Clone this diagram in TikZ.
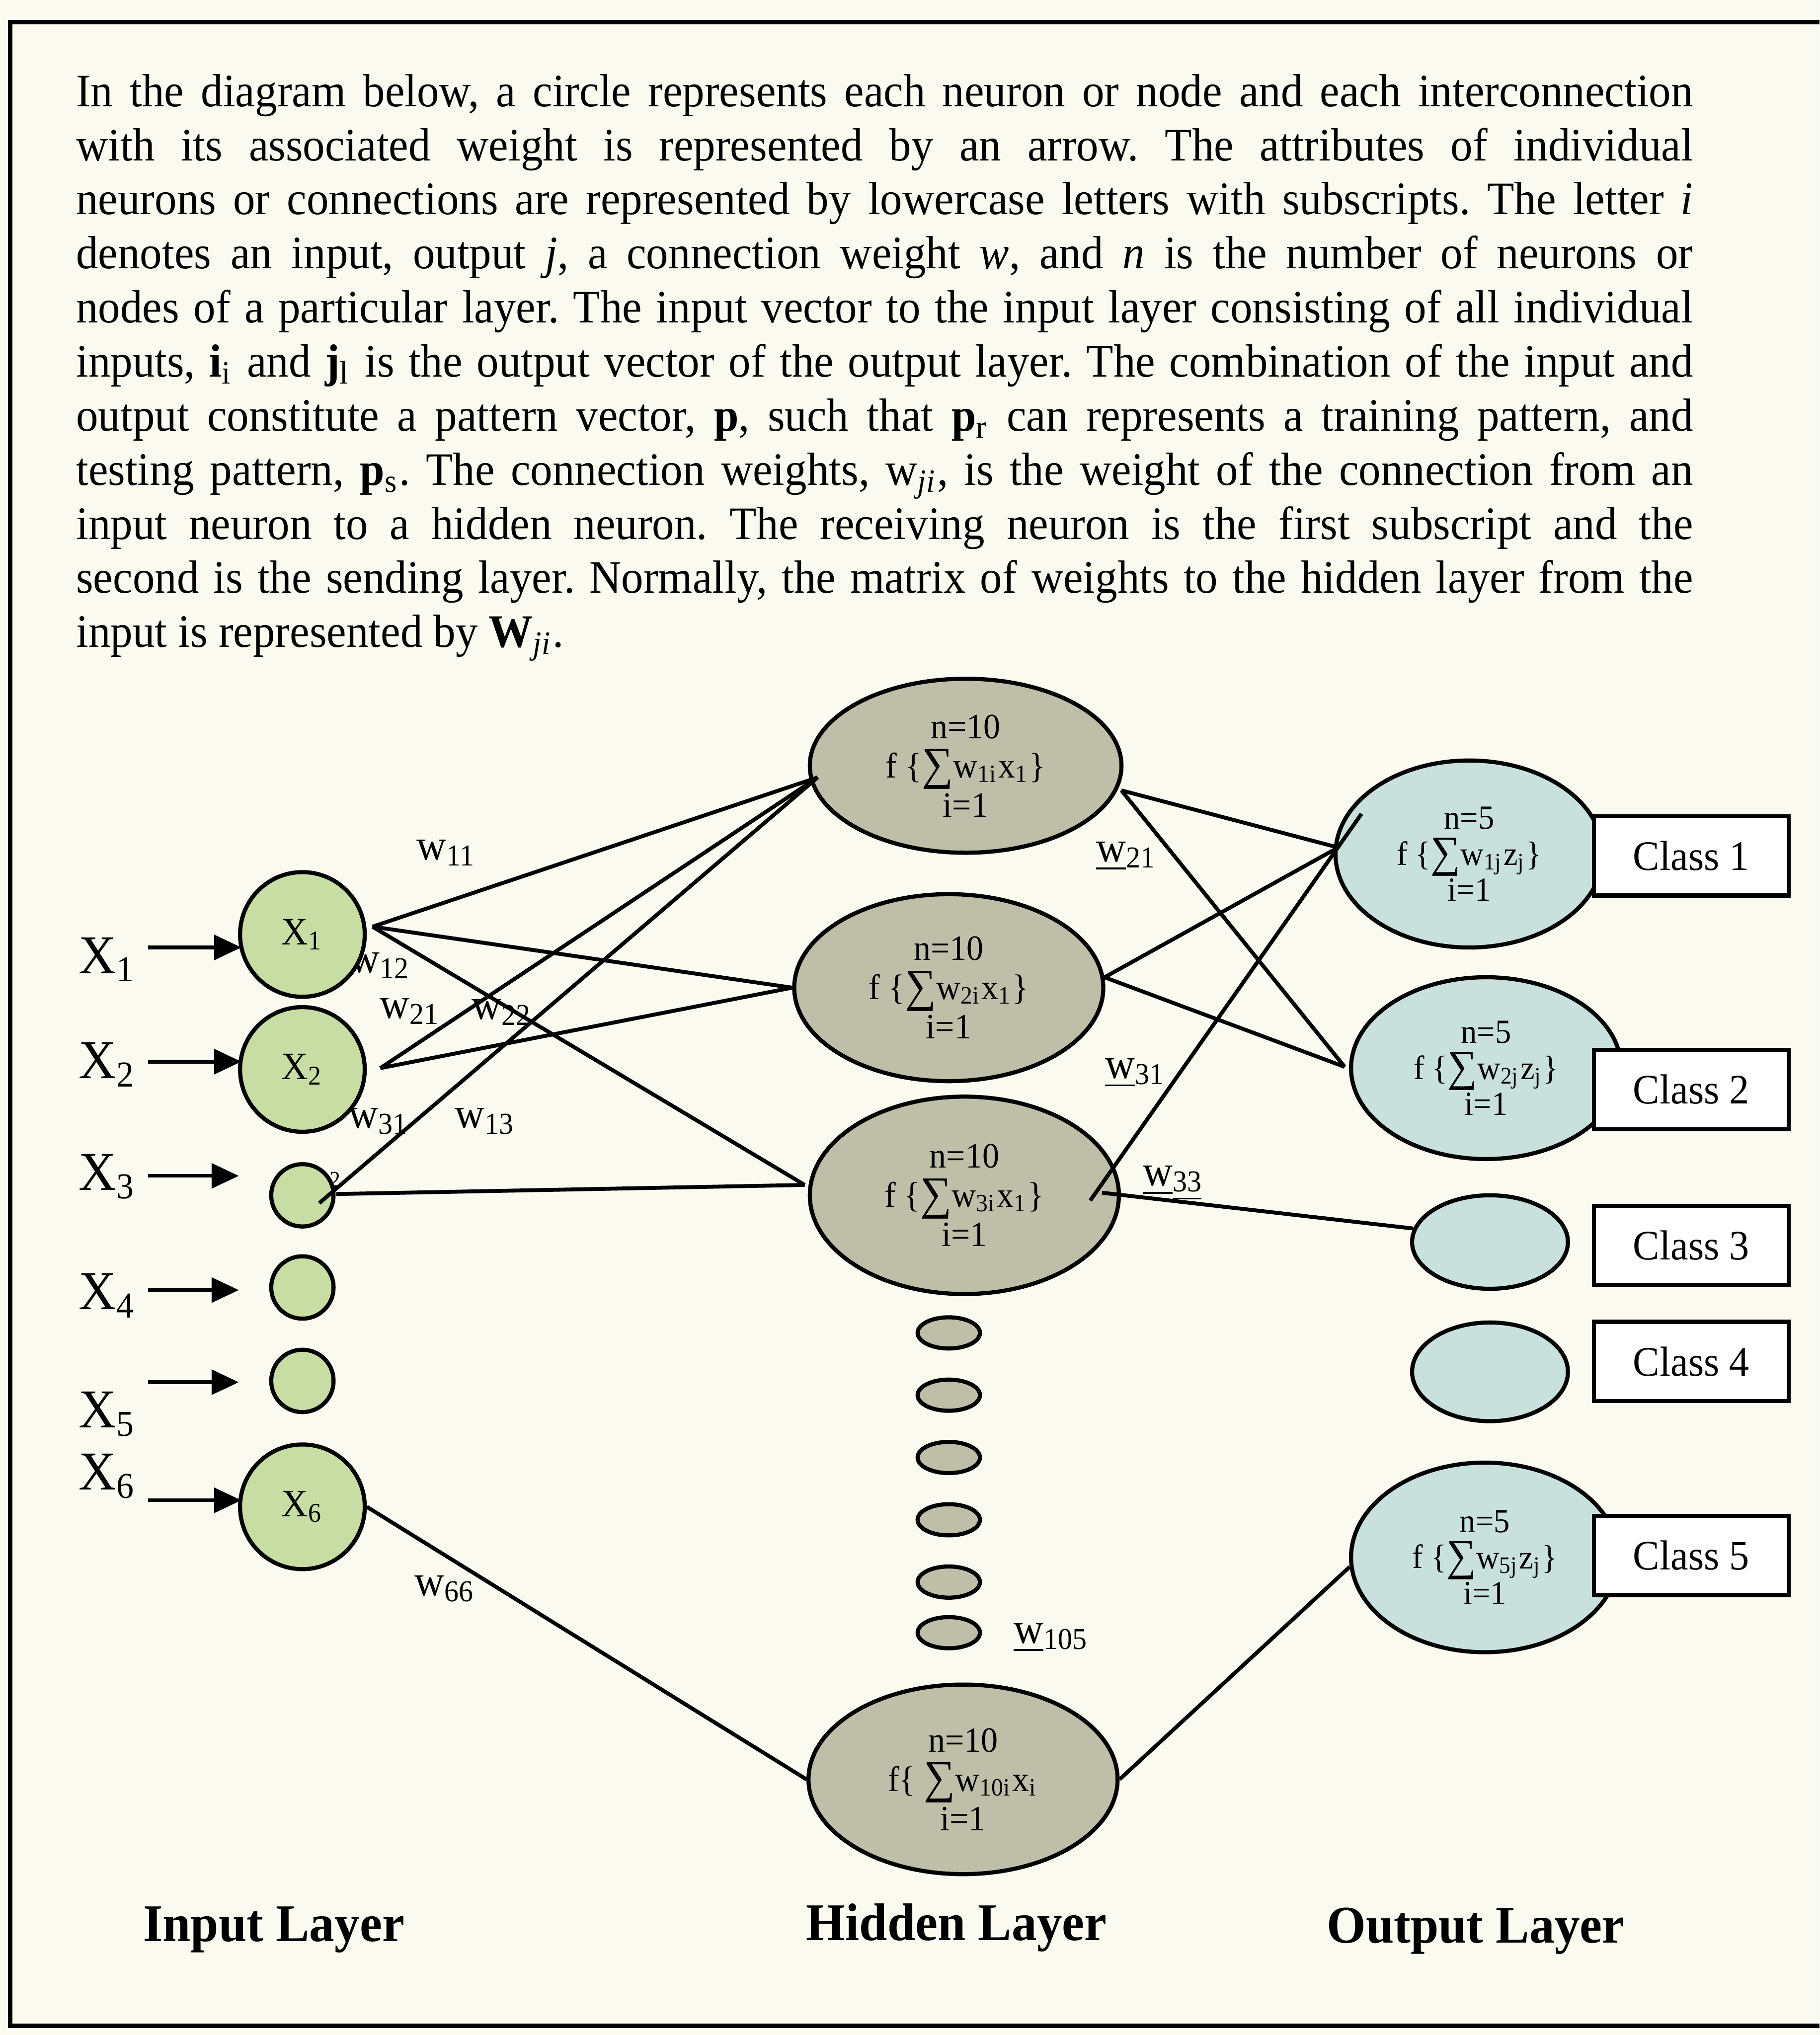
\documentclass[tikz,border=0pt]{standalone}
\usepackage{fontspec}
\setmainfont{Liberation Serif}[FakeStretch=0.95]
\usetikzlibrary{arrows.meta,shapes.geometric}
\definecolor{nnbg}{HTML}{FBFAF0}
\definecolor{nnin}{HTML}{C8DDA4}
\definecolor{nnhid}{HTML}{BFBEA8}
\definecolor{nnout}{HTML}{C8E1DC}
\newcommand\sig{\raisebox{-0.1ex}{\scalebox{1.3}{∑}}}
\frenchspacing
\tikzset{
  inn/.style  = {circle, draw=black, line width=0.9pt, fill=nnin, inner sep=0pt,
                 font=\fontsize{8.5}{9}\selectfont},
  hid/.style  = {ellipse, draw=black, line width=0.9pt, fill=nnhid, inner sep=0pt,
                 align=center, font=\fontsize{7.8}{8.6}\selectfont},
  outn/.style = {ellipse, draw=black, line width=0.9pt, fill=nnout, inner sep=0pt,
                 align=center, font=\fontsize{7.4}{7.9}\selectfont},
  cls/.style  = {rectangle, draw=black, line width=0.9pt, fill=white,
                 minimum width=1.5cm, minimum height=0.61cm,
                 font=\fontsize{9.2}{10}\selectfont},
  ed/.style   = {draw=black, line width=0.85pt},
  arr/.style  = {-{Triangle[length=2.1mm,width=1.9mm]}, draw=black, line width=0.8pt},
  wl/.style   = {font=\fontsize{9.5}{10}\selectfont, inner sep=0pt},
  xl/.style   = {font=\fontsize{12}{13}\selectfont, inner sep=0pt, anchor=base west},
  lay/.style  = {font=\fontsize{11.6}{13}\selectfont\bfseries, inner sep=0pt, anchor=base},
}

\begin{document}
\begin{tikzpicture}[x=0.01cm,y=-0.01cm]
  \useasboundingbox (0,0) rectangle (1402,1568);
  \fill[nnbg] (0,0) rectangle (1402,1568);
  \draw[line width=1pt] (1402,17) -- (8,17) -- (8,1561) -- (1402,1561);
  \node[anchor=base west, inner sep=0pt] (para) at (58,82) {\parbox[t]{12.45cm}{%
    \fontsize{10.2}{11.85}\selectfont
    \makebox[\linewidth][s]{In the diagram below, a circle represents each neuron or node and each interconnection}\\
    \makebox[\linewidth][s]{with its associated weight is represented by an arrow. The attributes of individual}\\
    \makebox[\linewidth][s]{neurons or connections are represented by lowercase letters with subscripts. The letter \textit{i}}\\
    \makebox[\linewidth][s]{denotes an input, output \textit{j}, a connection weight \textit{w}, and \textit{n} is the number of neurons or}\\
    \makebox[\linewidth][s]{nodes of a particular layer. The input vector to the input layer consisting of all individual}\\
    \makebox[\linewidth][s]{inputs, \textbf{i}\textsubscript{i} and \textbf{j}\textsubscript{l} is the output vector of the output layer. The combination of the input and}\\
    \makebox[\linewidth][s]{output constitute a pattern vector, \textbf{p}, such that \textbf{p}\textsubscript{r} can represents a training pattern, and}\\
    \makebox[\linewidth][s]{testing pattern, \textbf{p}\textsubscript{s}. The connection weights, w\textsubscript{\textit{ji}}, is the weight of the connection from an}\\
    \makebox[\linewidth][s]{input neuron to a hidden neuron. The receiving neuron is the first subscript and the}\\
    \makebox[\linewidth][s]{second is the sending layer. Normally, the matrix of weights to the hidden layer from the}\\
    input is represented by \textbf{W}\textsubscript{\textit{ji}}.}};

  % weights, drawn first so the circles cover them
  \node[wl] (w11) at (344,657) {w\textsubscript{11}};
  \node[wl] (w12) at (293,744) {w\textsubscript{12}};
  \node[wl] (w21) at (316,779) {w\textsubscript{21}};
  \node[wl] (w22) at (387,780) {w\textsubscript{22}};
  \node[wl] (w31) at (292,864) {w\textsubscript{31}};
  \node[wl] (w13) at (374,864) {w\textsubscript{13}};
  \node[wl] (w66) at (343,1224) {w\textsubscript{66}};
  \node[wl] (u21) at (868,660) {\underline{w}\textsubscript{21}};
  \node[wl] (u31) at (875,827) {\underline{w}\textsubscript{31}};
  \node[wl] (u33) at (904,912) {\underline{w}\textsubscript{\underline{33}}};
  \node[wl] (u105) at (810,1262) {\underline{w}\textsubscript{105}};

  % input layer
  \foreach \n/\y/\r/\t in {1/720/0.96/X\textsubscript{1}, 2/824/0.96/X\textsubscript{2},
      3/921/0.48/, 4/992/0.48/, 5/1064/0.48/, 6/1161/0.96/X\textsubscript{6}}{
    \node[inn, minimum size=\r cm] (x\n) at (233,\y) {\t};
  }
  \node[font=\fontsize{5}{5}\selectfont, inner sep=0pt] (tiny) at (258,909) {2};

  % hidden layer
  \node[hid, minimum width=2.40cm, minimum height=1.34cm] (h1) at (744,590)
    {n=10\\f \{\sig w\textsubscript{1i}x\textsubscript{1}\}\\i=1};
  \node[hid, minimum width=2.38cm, minimum height=1.44cm] (h2) at (731,761)
    {n=10\\f \{\sig w\textsubscript{2i}x\textsubscript{1}\}\\i=1};
  \node[hid, minimum width=2.38cm, minimum height=1.52cm] (h3) at (743,921)
    {n=10\\f \{\sig w\textsubscript{3i}x\textsubscript{1}\}\\i=1};
  \foreach \k/\y in {1/1027, 2/1075, 3/1123, 4/1171, 5/1219, 6/1258}{
    \node[hid, minimum width=0.48cm, minimum height=0.24cm] (s\k) at (731,\y) {};
  }
  \node[hid, minimum width=2.38cm, minimum height=1.46cm] (h10) at (742,1371)
    {n=10\\f\{ \sig w\textsubscript{10i}x\textsubscript{i}\\i=1};

  % output layer
  \node[outn, minimum width=2.06cm, minimum height=1.44cm] (o1) at (1132,658)
    {n=5\\f \{\sig w\textsubscript{1j}z\textsubscript{j}\}\\i=1};
  \node[outn, minimum width=2.08cm, minimum height=1.40cm] (o2) at (1145,823)
    {n=5\\f \{\sig w\textsubscript{2j}z\textsubscript{j}\}\\i=1};
  \node[outn, minimum width=1.20cm, minimum height=0.72cm] (o3) at (1148,957) {};
  \node[outn, minimum width=1.20cm, minimum height=0.76cm] (o4) at (1148,1057) {};
  \node[outn, minimum width=2.06cm, minimum height=1.46cm] (o5) at (1144,1200)
    {n=5\\f \{\sig w\textsubscript{5j}z\textsubscript{j}\}\\i=1};

  % connections
  \coordinate (x1p) at (287,714);
  \coordinate (x2p) at (293,823);
  \coordinate (x3p) at (246,927);
  \coordinate (x3q) at (259,920);
  \coordinate (h1in) at (630,599);
  \coordinate (h3in) at (620,913);
  \coordinate (h1p) at (864,609);
  \coordinate (h2p) at (851,753);
  \coordinate (h3p) at (840,925);
  \coordinate (h3q) at (849,919);
  \coordinate (o1in) at (1031,653);
  \coordinate (o1q) at (1049,627);
  \coordinate (o2in) at (1036,822);
  \foreach \a/\b in {x1p/h1in, x1p/h2.west, x1p/h3in, x2p/h1in, x2p/h2.west,
      x3p/h1in, x3q/h3in, x6.east/h10.west, h1p/o1in, h1p/o2in, h2p/o1in,
      h2p/o2in, h3p/o1q, h3q/o3.170, h10.east/o5.184}{
    \draw[ed] (\a) -- (\b);
  }

  % classes
  \foreach \k/\y in {1/659.5, 2/839.5, 3/959.5, 4/1049, 5/1198.5}{
    \node[cls] (c\k) at (1303,\y) {Class \k};
  }

  % inputs
  \foreach \k/\y/\e in {1/730/186, 2/818/186, 3/906/184, 4/994/184, 5/1065/184, 6/1156/186}{
    \coordinate (a\k) at (114,\y);
    \coordinate (b\k) at (\e,\y);
    \draw[arr] (a\k) -- (b\k);
  }
  \foreach \k/\y in {1/750, 2/831, 3/917, 4/1009, 5/1100, 6/1148}{
    \node[xl] (lx\k) at (60,\y) {X\textsubscript{\k}};
  }

  \node[lay] (lin) at (211,1496) {Input Layer};
  \node[lay] (lhid) at (737,1495) {Hidden Layer};
  \node[lay] (lout) at (1137,1497) {Output Layer};
\end{tikzpicture}
\end{document}
